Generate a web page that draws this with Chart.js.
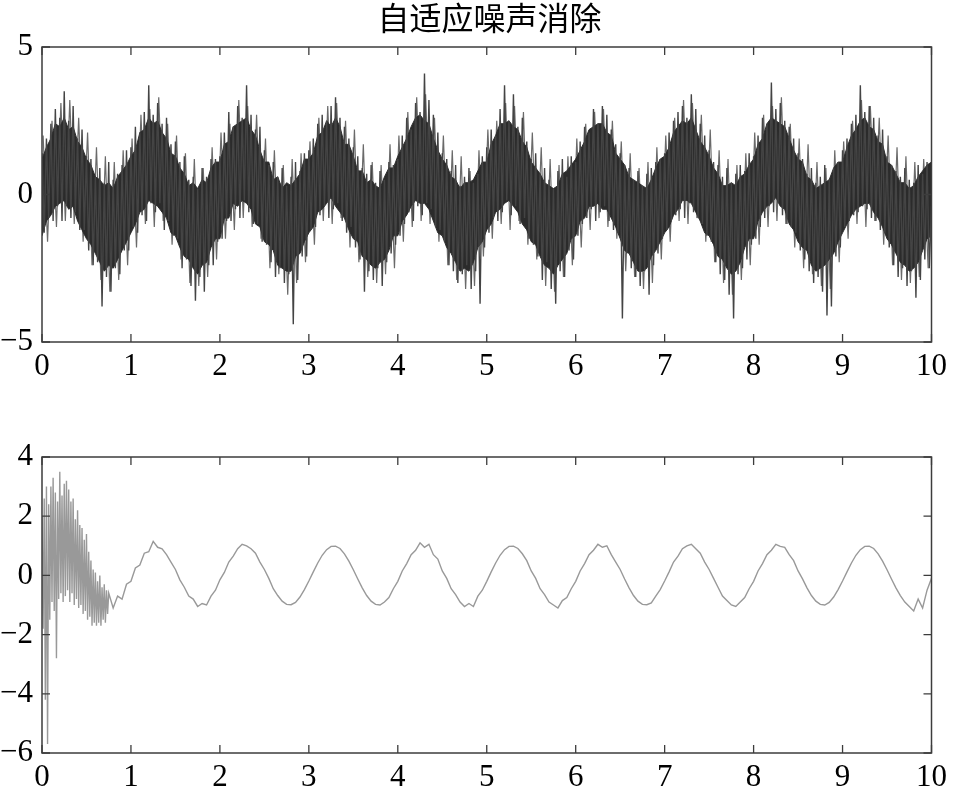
<!DOCTYPE html>
<html lang="zh">
<head>
<meta charset="UTF-8">
<title>自适应噪声消除</title>
<style>
    body { margin: 0; background: #fff; }
    #wrap { position: relative; width: 953px; height: 787px; }
    canvas { position: absolute; left: 0; }
    #topChart { top: 0; }
    #bottomChart { top: 395px; }
    #title {
        position: absolute; left: 42px; width: 895px; top: -5px;
        text-align: center; font-family: "Noto Sans CJK SC", sans-serif;
        font-size: 32px; color: #000; line-height: 42px;
    }
</style>
<script src="https://cdn.jsdelivr.net/npm/chart.js"></script>
</head>
<body>
<div id="wrap">
    <canvas id="topChart" width="953" height="395"></canvas>
    <canvas id="bottomChart" width="953" height="392"></canvas>
    <div id="title"></div>
</div>
<script>
// ---- data ----
const titleText = '自适应噪声消除';
const xTicks = [0, 1, 2, 3, 4, 5, 6, 7, 8, 9, 10];
const topYTicks = [-5, 0, 5];
const bottomYTicks = [-6, -4, -2, 0, 2, 4];

// noisy input, sampled every 0.025 s (one row per second)
const topStep = 0.025;
const topSignal = [
 1.4,-1.3,1.9,-0.8,2.4,-0.9,2.9,-0.4,2.6,-0.9,3.5,-0.4,2.5,-0.8,3.0,-0.6,1.9,-1.2,2.2,-1.2,1.3,-1.9,1.2,-2.4,0.6,-2.3,0.9,-3.8,0.4,-2.8,1.1,-3.3,0.5,-2.5,0.7,-2.7,1.0,-1.9,1.5,-1.9,
 1.6,-1.1,2.3,-1.3,2.1,-0.7,2.8,-0.9,3.7,-0.3,2.7,-0.6,3.1,-0.3,2.4,-1.2,2.6,-0.9,1.7,-1.4,1.8,-1.5,1.1,-2.5,1.3,-2.2,0.5,-3.1,0.6,-3.6,0.2,-2.8,0.9,-3.3,0.6,-2.4,1.2,-2.4,1.2,-1.6,
 1.3,-1.5,2.1,-0.9,2.8,-0.9,2.3,-0.5,3.0,-0.8,2.6,-0.2,3.7,-0.6,2.7,-1.0,2.2,-1.0,2.3,-1.6,1.5,-1.7,1.0,-2.3,1.1,-2.8,0.6,-2.5,0.9,-3.0,0.3,-2.7,0.6,-4.4,1.1,-2.9,0.8,-2.1,1.4,-2.1,
 1.5,-1.2,1.9,-1.1,2.4,-0.7,2.7,-0.4,2.5,-0.8,3.0,-0.5,3.3,-0.3,2.6,-0.9,2.3,-1.3,1.9,-1.1,1.6,-1.8,1.3,-2.2,0.9,-3.3,0.7,-2.6,1.0,-2.9,0.4,-2.5,0.8,-3.1,0.5,-2.3,1.1,-2.0,1.0,-1.7,
 1.2,-1.4,2.0,-1.0,2.6,-0.6,2.2,-0.9,3.1,-0.4,2.8,-0.7,4.1,-0.3,3.2,-0.5,2.7,-1.1,2.1,-1.2,1.4,-1.6,1.2,-2.4,0.8,-2.6,1.0,-3.0,0.3,-2.7,0.6,-2.4,0.9,-3.2,0.4,-2.6,0.7,-3.7,1.3,-1.8,
 1.6,-1.3,2.2,-0.8,2.0,-0.9,2.9,-0.6,3.7,-0.2,2.5,-0.7,3.4,-0.4,2.3,-1.0,2.6,-0.8,1.8,-1.5,1.2,-1.7,1.4,-2.1,0.7,-2.9,0.9,-2.3,0.5,-3.2,0.2,-3.7,0.8,-2.6,1.2,-2.8,0.6,-1.9,1.3,-2.2,
 1.1,-1.4,1.8,-1.0,2.3,-0.8,2.1,-0.5,2.9,-0.9,2.4,-0.6,3.0,-0.4,2.7,-0.9,2.2,-1.2,1.7,-1.3,1.4,-4.2,1.0,-2.0,0.9,-2.5,0.5,-2.8,0.8,-3.1,0.3,-2.6,0.7,-3.4,0.9,-2.4,1.1,-2.0,1.2,-1.5,
 1.4,-1.2,2.1,-0.9,2.5,-0.7,2.8,-0.5,3.0,-0.8,2.6,-0.3,3.4,-0.6,2.9,-0.8,2.4,-1.0,2.0,-1.4,1.5,-1.6,1.1,-2.3,1.0,-2.7,0.6,-2.9,0.9,-3.4,0.4,-4.2,0.7,-2.7,1.0,-2.5,0.8,-2.2,1.4,-1.7,
 1.3,-1.5,2.0,-1.1,2.6,-0.8,2.4,-0.4,3.8,-0.6,2.9,-0.3,3.1,-0.7,2.5,-1.0,2.3,-1.1,1.9,-1.3,1.4,-1.9,1.2,-2.2,0.7,-2.6,0.9,-3.0,0.4,-2.8,0.6,-3.3,1.0,-4.1,0.5,-3.8,0.9,-2.1,1.1,-1.8,
 1.5,-1.1,1.9,-0.9,2.4,-0.7,2.7,-0.6,3.7,-0.4,2.8,-0.5,3.0,-0.8,2.6,-0.9,2.0,-1.2,2.2,-1.3,1.3,-1.8,1.0,-2.4,0.8,-2.8,0.6,-2.5,0.9,-3.1,0.5,-2.6,0.4,-3.5,1.0,-2.9,0.7,-2.2,1.1,-2.5,
 -0.4
];

// lighter grey spikes between the samples above (0.0125 s offset, every 0.05 s)
const spikeStart = 0.0125;
const spikeStep = 0.05;
const topSpikes = [
 2.0,-1.6,2.5,-1.1,3.1,-0.9,3.2,-1.0,2.6,-1.6,2.1,-2.4,1.6,-2.9,1.3,-3.3,1.1,-2.9,1.5,-2.4,
 1.9,-1.8,2.7,-1.0,2.9,-1.1,3.3,-0.9,2.4,-1.7,2.0,-2.2,1.4,-3.0,1.2,-3.1,0.9,-2.8,1.6,-2.2,
 2.1,-1.5,2.4,-1.2,3.2,-0.8,3.0,-1.1,2.7,-1.5,1.9,-2.5,1.5,-2.7,1.0,-3.4,1.2,-3.0,1.4,-2.3,
 1.8,-1.7,2.6,-0.9,3.0,-1.0,3.1,-0.8,2.5,-1.8,2.2,-2.3,1.7,-2.8,1.1,-3.0,1.0,-2.7,1.7,-2.5,
 2.0,-1.6,2.8,-1.1,3.3,-0.9,3.4,-1.0,2.6,-1.6,2.0,-2.4,1.5,-2.9,1.3,-3.2,0.8,-3.1,1.5,-2.1,
 2.2,-1.5,2.5,-1.0,3.1,-1.2,3.0,-0.9,2.8,-1.7,2.1,-2.2,1.6,-3.1,1.2,-3.3,1.0,-2.8,1.3,-2.4,
 1.9,-1.8,2.4,-1.2,2.8,-0.8,2.9,-1.1,2.5,-1.5,1.8,-2.6,1.4,-2.8,0.9,-3.2,1.1,-3.0,1.6,-2.2,
 2.0,-1.6,2.6,-0.9,3.2,-1.0,3.1,-0.8,2.7,-1.6,2.2,-2.3,1.5,-3.0,1.2,-3.4,1.0,-2.9,1.4,-2.4,
 2.1,-1.7,2.7,-1.1,3.0,-0.9,3.3,-1.0,2.4,-1.8,1.9,-2.5,1.7,-2.7,1.1,-3.1,0.9,-3.2,1.5,-2.3,
 1.8,-1.5,2.5,-1.0,3.2,-1.1,3.0,-0.9,2.6,-1.7,2.0,-2.4,1.6,-2.9,1.3,-3.0,1.1,-2.8,1.2,-2.5
];

// dense dark core of the noisy input, every 0.05 s
const bandStep = 0.05;
const bandUpper = [
 1.2,1.6,1.9,2.4,2.3,2.6,2.2,2.3,1.8,1.6,1.2,1.0,0.6,0.5,0.3,0.4,0.2,0.6,0.8,1.0,
 1.3,1.5,2.1,2.2,2.6,2.4,2.5,2.1,1.9,1.4,1.3,0.9,0.7,0.3,0.4,0.2,0.5,0.4,0.9,1.1,
 1.1,1.7,1.8,2.3,2.4,2.5,2.6,2.2,2.0,1.5,1.1,1.1,0.5,0.6,0.2,0.4,0.3,0.5,0.7,1.2,
 1.2,1.4,2.0,2.1,2.5,2.3,2.6,2.3,1.7,1.7,1.3,0.8,0.8,0.4,0.5,0.3,0.2,0.6,0.9,0.9,
 1.3,1.6,1.9,2.3,2.6,2.7,2.5,2.4,1.9,1.5,1.2,1.0,0.6,0.5,0.2,0.4,0.4,0.5,0.8,1.1,
 1.1,1.7,2.0,2.4,2.4,2.5,2.3,2.2,1.8,1.6,1.1,0.9,0.7,0.4,0.3,0.2,0.3,0.7,0.8,1.0,
 1.2,1.5,1.8,2.2,2.3,2.4,2.4,2.1,2.0,1.4,1.2,1.0,0.6,0.5,0.4,0.3,0.2,0.5,0.9,1.2,
 1.3,1.6,2.1,2.3,2.5,2.4,2.6,2.2,1.8,1.6,1.3,0.9,0.7,0.3,0.3,0.4,0.3,0.6,0.7,1.0,
 1.2,1.7,1.9,2.4,2.6,2.5,2.4,2.3,1.9,1.5,1.2,1.1,0.6,0.5,0.2,0.3,0.4,0.5,0.9,1.1,
 1.1,1.6,2.0,2.2,2.5,2.6,2.3,2.2,1.8,1.7,1.1,1.0,0.7,0.4,0.4,0.2,0.3,0.6,0.8,1.0,
 1.1
];
const bandLower = [
 -1.4,-0.9,-0.7,-0.4,-0.3,-0.2,-0.5,-0.4,-0.9,-1.2,-1.5,-1.7,-2.0,-2.3,-2.6,-2.4,-2.5,-2.2,-1.9,-1.6,
 -1.3,-1.0,-0.6,-0.5,-0.2,-0.3,-0.4,-0.6,-0.8,-1.3,-1.4,-1.8,-2.1,-2.2,-2.5,-2.7,-2.4,-2.3,-1.8,-1.5,
 -1.5,-0.8,-0.8,-0.3,-0.4,-0.2,-0.3,-0.5,-1.0,-1.1,-1.6,-1.7,-1.9,-2.4,-2.5,-2.6,-2.6,-2.1,-2.0,-1.6,
 -1.3,-1.1,-0.6,-0.5,-0.3,-0.1,-0.4,-0.6,-0.8,-1.2,-1.5,-1.6,-2.1,-2.2,-2.4,-2.5,-2.3,-2.2,-1.9,-1.4,
 -1.4,-0.9,-0.7,-0.4,-0.2,-0.3,-0.3,-0.5,-0.9,-1.3,-1.4,-1.8,-2.0,-2.3,-2.6,-2.5,-2.6,-2.3,-1.8,-1.6,
 -1.2,-1.0,-0.6,-0.5,-0.3,-0.2,-0.4,-0.6,-1.0,-1.2,-1.6,-1.7,-2.1,-2.4,-2.5,-2.7,-2.4,-2.2,-2.0,-1.5,
 -1.4,-0.9,-0.8,-0.4,-0.4,-0.3,-0.5,-0.5,-0.8,-1.1,-1.5,-1.9,-2.0,-2.3,-2.6,-2.6,-2.5,-2.1,-1.9,-1.6,
 -1.3,-1.1,-0.7,-0.5,-0.2,-0.2,-0.3,-0.6,-0.9,-1.3,-1.4,-1.7,-2.1,-2.2,-2.5,-2.7,-2.6,-2.3,-1.8,-1.5,
 -1.5,-0.9,-0.6,-0.4,-0.3,-0.1,-0.4,-0.5,-1.0,-1.2,-1.6,-1.8,-1.9,-2.4,-2.6,-2.5,-2.4,-2.2,-2.0,-1.6,
 -1.3,-1.0,-0.7,-0.5,-0.4,-0.3,-0.3,-0.6,-0.8,-1.1,-1.5,-1.7,-2.0,-2.3,-2.4,-2.6,-2.5,-2.3,-1.9,-1.5,
 -1.4
];

// cancelled output: converging start (every 0.0125 s, 0 - 0.75 s)
const cancelEarlyStep = 0.0125;
const cancelEarly = [
 2.0,-1.8,2.6,-4.2,3.0,-5.7,2.4,-1.5,3.0,-0.9,3.3,-1.2,2.8,-2.8,2.5,-0.8,
 3.5,-0.6,2.7,-0.9,3.1,-0.7,3.2,-0.5,2.9,-0.9,2.5,-0.6,2.6,-1.0,1.9,-0.8,
 2.2,-1.1,1.7,-1.0,1.6,-1.3,1.2,-1.2,1.4,-1.5,0.8,-1.4,0.5,-1.7,0.2,-1.6,
 0.1,-1.7,-0.2,-1.6,0.0,-1.7,-0.4,-1.5,-0.3,-1.6,-0.5,-1.3,-0.6
];
// cancelled output after convergence (every 0.05 s, 0.8 - 10 s)
const cancelLateStart = 0.8;
const cancelLateStep = 0.05;
const cancelLate = [
 -1.1,-0.7,-0.8,-0.3,-0.2,0.25,0.35,0.75,0.8,1.15,0.95,0.9,0.7,0.45,0.2,-0.15,-0.4,-0.7,-0.8,-1.05,
 -0.95,-1.0,-0.7,-0.5,-0.15,0.1,0.45,0.65,0.9,1.05,1.0,0.9,0.75,0.45,0.2,-0.1,-0.45,-0.68,-0.87,-0.98,
 -0.99,-0.91,-0.73,-0.48,-0.19,0.12,0.42,0.68,0.87,0.98,0.99,0.91,0.73,0.48,0.19,-0.12,-0.42,-0.68,-0.87,-0.98,
 -1.0,-0.9,-0.75,-0.45,-0.2,0.15,0.4,0.7,0.85,1.1,0.95,1.05,0.7,0.55,0.15,-0.1,-0.45,-0.65,-0.9,-1.05,
 -0.95,-1.05,-0.7,-0.5,-0.2,0.12,0.42,0.68,0.87,0.98,0.99,0.91,0.73,0.5,0.15,-0.1,-0.45,-0.65,-0.9,-1.0,
 -1.1,-0.85,-0.75,-0.45,-0.2,0.15,0.4,0.7,0.85,1.05,0.95,1.0,0.7,0.45,0.2,-0.12,-0.42,-0.68,-0.87,-0.98,
 -0.99,-0.93,-0.7,-0.48,-0.19,0.12,0.45,0.65,0.9,1.0,1.05,0.9,0.75,0.45,0.2,-0.1,-0.4,-0.7,-0.85,-1.0,
 -1.05,-0.9,-0.75,-0.45,-0.2,0.15,0.4,0.7,0.85,1.05,0.98,0.95,0.7,0.5,0.15,-0.12,-0.42,-0.68,-0.87,-0.98,
 -1.0,-0.91,-0.73,-0.48,-0.19,0.12,0.42,0.68,0.87,0.98,0.99,0.91,0.73,0.48,0.19,-0.12,-0.42,-0.68,-0.9,-1.05,
 -1.2,-0.8,-1.1,-0.5,-0.1
];

// ---- helpers ----
function toPoints(values, start, step) {
    return values.map((v, i) => ({ x: +(start + i * step).toFixed(4), y: v }));
}

function minusLabel(v) {
    return v < 0 ? '\u2212' + Math.abs(v) : String(v);
}

document.getElementById('title').textContent = titleText;

const tickFont = { family: '"Liberation Serif", "Times New Roman", serif', size: 31 };

// frame box with inward tick marks on all four sides (matlab look)
const frameTicks = {
    id: 'frameTicks',
    afterDatasetsDraw(chart) {
        const { ctx, chartArea: a, scales } = chart;
        const len = 8;
        ctx.save();
        ctx.strokeStyle = '#3c3c3c';
        ctx.lineWidth = 1.5;
        ctx.strokeRect(a.left, a.top, a.right - a.left, a.bottom - a.top);
        ctx.lineWidth = 1.3;
        ctx.beginPath();
        scales.x.ticks.forEach(t => {
            const px = scales.x.getPixelForValue(t.value);
            ctx.moveTo(px, a.bottom); ctx.lineTo(px, a.bottom - len);
            ctx.moveTo(px, a.top); ctx.lineTo(px, a.top + len);
        });
        scales.y.ticks.forEach(t => {
            const py = scales.y.getPixelForValue(t.value);
            ctx.moveTo(a.left, py); ctx.lineTo(a.left + len, py);
            ctx.moveTo(a.right, py); ctx.lineTo(a.right - len, py);
        });
        ctx.stroke();
        ctx.restore();
    }
};

function axes(yMin, yMax, yTicks, xHeight) {
    return {
        x: {
            type: 'linear', min: 0, max: 10,
            afterBuildTicks: s => { s.ticks = xTicks.map(v => ({ value: v })); },
            afterFit: s => { s.height = xHeight; },
            grid: { display: false, drawTicks: false },
            border: { display: false },
            ticks: { font: tickFont, color: '#000', padding: 6, maxRotation: 0, callback: minusLabel }
        },
        y: {
            min: yMin, max: yMax,
            afterBuildTicks: s => { s.ticks = yTicks.map(v => ({ value: v })); },
            afterFit: s => { s.width = 42; },
            grid: { display: false, drawTicks: false },
            border: { display: false },
            ticks: { font: tickFont, color: '#000', padding: 9, callback: minusLabel }
        }
    };
}

// ---- top: noisy signal ----
new Chart(document.getElementById('topChart'), {
    type: 'line',
    data: {
        datasets: [
            {
                data: toPoints(topSignal, 0, topStep),
                borderColor: '#444444', borderWidth: 1.4,
                pointRadius: 0, tension: 0, order: 1
            },
            {
                data: toPoints(topSpikes, spikeStart, spikeStep),
                borderColor: '#6a6a6a', borderWidth: 1.2,
                pointRadius: 0, tension: 0, order: 3
            },
            {
                data: toPoints(bandUpper, 0, bandStep),
                borderColor: '#2e2e2e', borderWidth: 1, backgroundColor: '#2b2b2b',
                pointRadius: 0, tension: 0, fill: '+1', order: 2
            },
            {
                data: toPoints(bandLower, 0, bandStep),
                borderColor: '#2e2e2e', borderWidth: 1,
                pointRadius: 0, tension: 0, fill: false, order: 2
            }
        ]
    },
    options: {
        responsive: false, animation: false, devicePixelRatio: 1,
        layout: { padding: { left: 0, right: 16, top: 47, bottom: 0 } },
        plugins: { legend: { display: false }, tooltip: { enabled: false } },
        scales: axes(-5, 5, topYTicks, 53)
    },
    plugins: [frameTicks]
});

// ---- bottom: cancelled output ----
const cancelPoints = toPoints(cancelEarly, 0, cancelEarlyStep)
    .concat(toPoints(cancelLate, cancelLateStart, cancelLateStep));

new Chart(document.getElementById('bottomChart'), {
    type: 'line',
    data: {
        datasets: [{
            data: cancelPoints,
            borderColor: '#999999', borderWidth: 1.4,
            pointRadius: 0, tension: 0
        }]
    },
    options: {
        responsive: false, animation: false, devicePixelRatio: 1,
        layout: { padding: { left: 0, right: 16, top: 62, bottom: 0 } },
        plugins: { legend: { display: false }, tooltip: { enabled: false } },
        scales: axes(-6, 4, bottomYTicks, 34)
    },
    plugins: [frameTicks]
});
</script>
</body>
</html>
